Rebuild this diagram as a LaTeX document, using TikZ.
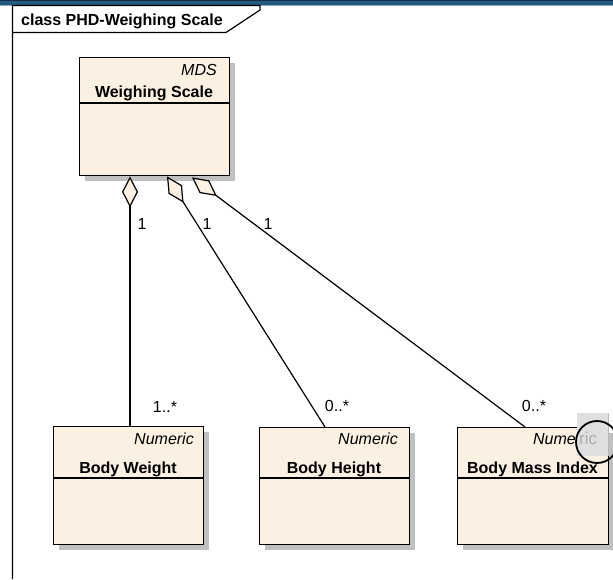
\documentclass[tikz,border=0pt]{standalone}
\usepackage{fontspec}
\setmainfont{Liberation Sans}
\usetikzlibrary{calc,arrows.meta,shadows}

\definecolor{classfill}{RGB}{251,240,225}
\definecolor{shadowgray}{RGB}{192,192,192}
\definecolor{barblue}{RGB}{36,90,128}
\definecolor{bardark}{RGB}{20,45,70}
\definecolor{barlight}{RGB}{140,166,190}

\tikzset{
  txt/.style={inner sep=0pt, font=\fontsize{16}{19}\selectfont},
  bold/.style={txt, font=\fontsize{16}{19}\selectfont\bfseries},
  stereo/.style={txt, font=\fontsize{16}{19}\selectfont\itshape, anchor=base east},
  classbox/.style={draw=black, line width=1.4pt, fill=classfill, inner sep=0pt,
    anchor=north west,
    drop shadow={shadow xshift=5pt, shadow yshift=-5pt, fill=shadowgray, opacity=1}},
  compart/.style={line width=1.4pt},
  assoc/.style={line width=1.2pt},
  aggtip/.style={{Diamond[length=31pt,width=16pt,fill=classfill,line width=1.2pt]}-},
  mult/.style={txt, anchor=center}
}

\begin{document}
\begin{tikzpicture}[x=1pt,y=-1pt]
  \useasboundingbox (0,0) rectangle (613,579);
  \fill[white] (0,0) rectangle (613,579);

  % window title strip
  \fill[barblue] (0,0) rectangle (613,5);
  \fill[bardark] (0,0) rectangle (613,1);
  \fill[barlight] (0,5) rectangle (613,6);

  % diagram frame and name tab
  \draw[line width=1.2pt] (12.5,579) -- (12.5,5.5) -- (260,5.5) -- (260,10) -- (226,32.5) -- (12.5,32.5);
  \node[bold, anchor=base west] (title) at (21,25) {class PHD-Weighing Scale};

  % classes
  \node[classbox, minimum width=150pt, minimum height=118pt] (ws) at (79,57) {};
  \draw[compart] (79,103) -- (229,103);
  \node[stereo] (wsst) at (217,75) {MDS};
  \node[bold, anchor=base] (wsname) at (154,97) {Weighing Scale};

  \node[classbox, minimum width=150pt, minimum height=118pt] (bw) at (53,426) {};
  \draw[compart] (53,478) -- (203,478);
  \node[stereo] (bwst) at (194,444) {Numeric};
  \node[bold, anchor=base] (bwname) at (128,473) {Body Weight};

  \node[classbox, minimum width=150pt, minimum height=117pt] (bh) at (259,427) {};
  \draw[compart] (259,478) -- (409,478);
  \node[stereo] (bhst) at (398,444) {Numeric};
  \node[bold, anchor=base] (bhname) at (334,473) {Body Height};

  \node[classbox, minimum width=151pt, minimum height=117pt] (bmi) at (457,427) {};
  \draw[compart] (457,478) -- (608,478);
  \node[stereo] (bmist) at (576,444) {Nume};
  \node[bold, anchor=base] (bminame) at (532.5,473) {Body Mass Index};

  % aggregation ends on the scale and the ends on the parts
  \coordinate (a1) at ($(ws.south west)+(51,0)$);
  \coordinate (a2) at ($(ws.south west)+(88,0)$);
  \coordinate (a3) at ($(ws.south west)+(113,1)$);
  \coordinate (p1) at ($(bw.north west)+(77,0)$);
  \coordinate (p2) at ($(bh.north west)+(66,0)$);
  \coordinate (p3) at ($(bmi.north west)+(68,0)$);

  \draw[assoc, aggtip] (a1) -- (p1);
  \draw[assoc, aggtip] (a2) -- (p2);
  \draw[assoc, aggtip] (a3) -- (p3);

  % multiplicities
  \node[mult] (m1a) at (142,224) {1};
  \node[mult] (m2a) at (207,224) {1};
  \node[mult] (m3a) at (268,224) {1};
  \node[mult] (m1b) at (165,407) {1..*};
  \node[mult] (m2b) at (337,406) {0..*};
  \node[mult] (m3b) at (534,406) {0..*};

  % magnifier overlay at the right edge
  \fill[gray!25] (577,413) rectangle (609,456);
  \draw[gray!55, line width=1pt] (608.5,413) -- (608.5,456);
  \node[txt, text=gray!65, anchor=base west, font=\fontsize{17}{19}\selectfont] (ric) at (579,444) {ric};
  \draw[line width=1.8pt] (597,442) circle (21);
\end{tikzpicture}
\end{document}
